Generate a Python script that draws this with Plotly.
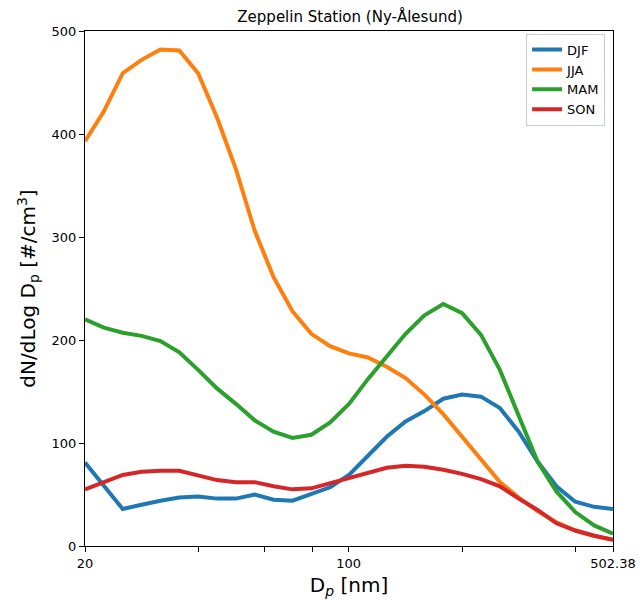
import numpy as np
import plotly.graph_objects as go

# Diameter grid (nm), log spaced from 20 to 502.38
dp = [20 * 10 ** (0.05 * k) for k in range(29)]

djf = [81, 58, 36, 40, 44, 47, 48, 46, 46, 50, 45, 44, 51, 57, 69, 88,
       106, 121, 131, 143, 147, 145, 134, 111, 82, 58, 43, 38, 36]
jja = [393, 422, 459, 472, 482, 481, 459, 416, 366, 306, 261, 228, 206, 194, 187, 183,
       174, 163, 147, 128, 106, 84, 62, 47, 34, 23, 15, 10, 6]
mam = [220, 212, 207, 204, 199, 188, 171, 153, 138, 122, 111, 105, 108, 120, 138, 162,
       184, 206, 224, 235, 226, 205, 171, 126, 82, 53, 33, 20, 12]
son = [55, 62, 69, 72, 73, 73, 68, 64, 62, 62, 58, 55, 56, 61, 66, 70,
       76, 78, 77, 74, 70, 65, 58, 46, 35, 22, 15, 10, 6]

series = [("DJF", djf, "#1f77b4"), ("JJA", jja, "#ff7f0e"),
          ("MAM", mam, "#2ca02c"), ("SON", son, "#d62728")]

x_tickvals = [20, 100, 502.38]
x_ticktext = ["20", "100", "502.38"]
x_minor = [40, 60, 80, 200, 400]
y_tickvals = [0, 100, 200, 300, 400, 500]

fig = go.Figure()
for name, vals, col in series:
    fig.add_trace(go.Scatter(x=dp, y=vals, mode="lines", name=name,
                             line=dict(color=col, width=4)))

fig.update_layout(
    width=640, height=600,
    paper_bgcolor="white", plot_bgcolor="white",
    margin=dict(l=85, r=27, t=31, b=54, autoexpand=False),
    font=dict(family="DejaVu Sans", color="black", size=13),
    title=dict(text="Zeppelin Station (Ny-Ålesund)", x=0.547, xanchor="center",
               y=0.972, yanchor="middle", font=dict(size=15)),
    legend=dict(x=0.985, y=0.995, xanchor="right", yanchor="top",
                bgcolor="white", bordercolor="#cccccc", borderwidth=1,
                font=dict(size=13), tracegroupgap=0),
    showlegend=True,
)
fig.update_xaxes(type="log", range=[np.log10(20), np.log10(502.38)],
                 tickmode="array", tickvals=x_tickvals, ticktext=x_ticktext,
                 ticks="outside", ticklen=5, tickcolor="black",
                 minor=dict(tickmode="array", tickvals=x_minor, ticks="outside",
                            ticklen=5, tickcolor="black", showgrid=False),
                 showline=True, linecolor="black", linewidth=1, mirror=True,
                 showgrid=False, zeroline=False,
                 title=dict(text="D<sub><i>p</i></sub> [nm]", font=dict(size=20), standoff=8))
fig.update_yaxes(range=[0, 500], tickvals=y_tickvals,
                 ticks="outside", ticklen=5, tickcolor="black",
                 showline=True, linecolor="black", linewidth=1, mirror=True,
                 showgrid=False, zeroline=False,
                 title=dict(text="dN/dLog D<sub>p</sub> [#/cm<sup>3</sup>]", font=dict(size=20), standoff=10))

fig.write_html("out.html", config={"displayModeBar": False},
               post_script="document.body.style.margin='0';document.body.style.overflow='hidden';")
